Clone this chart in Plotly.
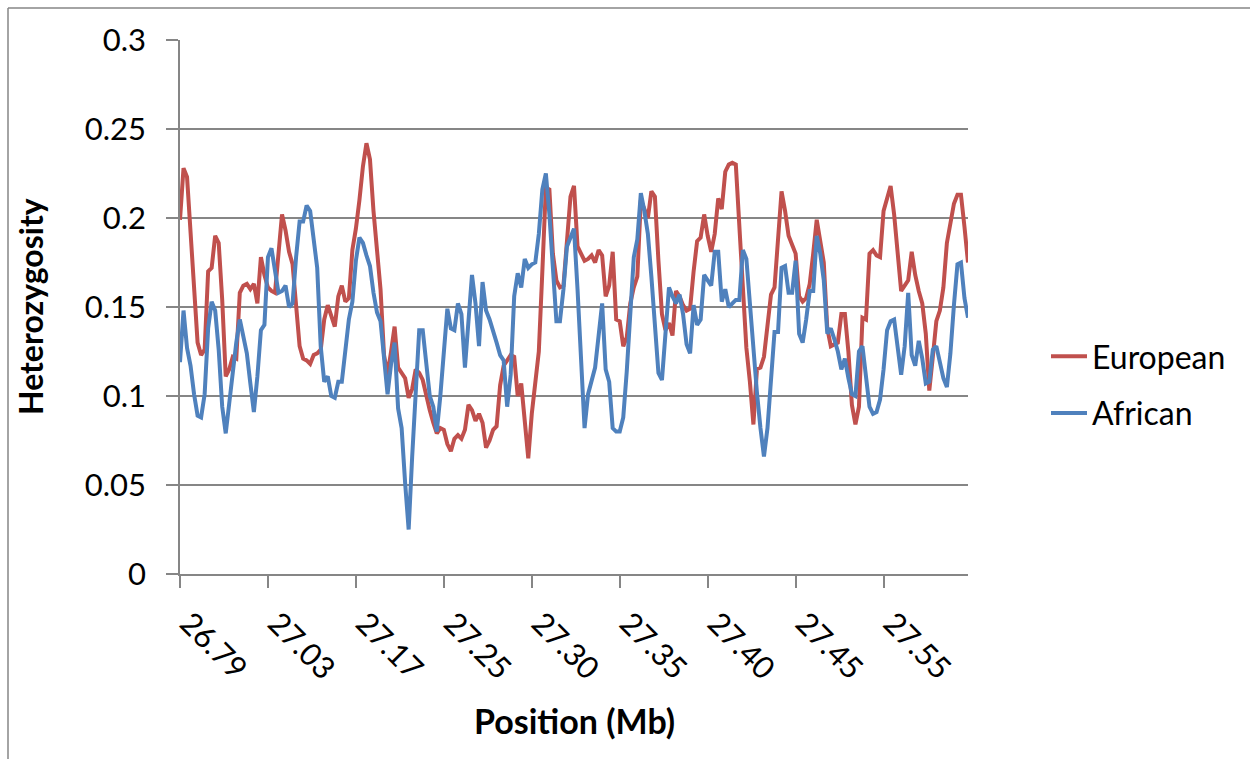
import plotly.graph_objects as go

# Heterozygosity along the region, one value per marker (window) in order
european = [
    .199, .228, .223, .189, .156, .130, .123, .126, .170, .172,
    .190, .186, .154, .111, .115, .122, .121, .158, .162, .163,
    .160, .163, .152, .178, .168, .161, .159, .158, .180, .202,
    .193, .181, .174, .152, .128, .121, .120, .118, .123, .124,
    .126, .143, .151, .145, .139, .156, .162, .153, .155, .182,
    .194, .210, .229, .242, .233, .204, .180, .160, .123, .112,
    .125, .139, .116, .113, .110, .099, .104, .115, .113, .109,
    .100, .092, .085, .079, .082, .081, .073, .069, .076, .078,
    .076, .081, .095, .092, .086, .090, .085, .071, .075, .081,
    .083, .106, .117, .120, .123, .122, .100, .107, .086, .065,
    .090, .110, .125, .170, .217, .216, .180, .165, .161, .162,
    .186, .212, .218, .184, .180, .176, .177, .179, .175, .182,
    .179, .156, .162, .181, .143, .142, .128, .133, .152, .161,
    .167, .210, .205, .200, .215, .212, .176, .146, .137, .141,
    .134, .159, .156, .151, .148, .149, .170, .187, .189, .202,
    .190, .181, .191, .211, .205, .226, .230, .231, .230, .197,
    .155, .127, .108, .084, .115, .116, .122, .141, .157, .161,
    .186, .215, .204, .190, .185, .180, .156, .153, .155, .163,
    .180, .199, .187, .175, .138, .128, .129, .130, .146, .146,
    .125, .095, .084, .094, .144, .143, .180, .182, .179, .178,
    .204, .211, .218, .202, .177, .159, .162, .165, .181, .168,
    .159, .152, .135, .103, .122, .142, .148, .161, .186, .196,
    .208, .213, .213, .195, .175,
]

african = [
    .119, .148, .127, .117, .101, .089, .088, .101, .138, .153,
    .148, .126, .094, .079, .096, .115, .130, .143, .134, .124,
    .107, .091, .111, .137, .140, .178, .183, .169, .158, .159,
    .162, .150, .152, .178, .198, .198, .207, .204, .186, .172,
    .128, .108, .111, .100, .099, .108, .108, .127, .143, .153,
    .176, .189, .186, .179, .173, .158, .147, .142, .124, .101,
    .118, .130, .093, .082, .051, .025, .066, .100, .137, .137,
    .120, .100, .094, .080, .100, .127, .149, .138, .137, .152,
    .146, .116, .146, .168, .152, .128, .164, .148, .143, .137,
    .130, .123, .120, .094, .112, .156, .169, .161, .177, .172,
    .174, .175, .191, .216, .225, .202, .173, .142, .142, .160,
    .184, .189, .194, .160, .118, .082, .101, .109, .116, .134,
    .152, .115, .108, .082, .080, .080, .088, .114, .145, .178,
    .188, .214, .204, .191, .167, .140, .113, .109, .133, .161,
    .156, .152, .157, .146, .129, .124, .151, .140, .143, .168,
    .165, .162, .181, .181, .153, .160, .150, .152, .154, .154,
    .182, .177, .152, .122, .102, .082, .066, .082, .112, .136,
    .136, .172, .173, .158, .158, .176, .135, .130, .143, .159,
    .159, .190, .180, .165, .135, .138, .132, .125, .115, .121,
    .110, .101, .100, .125, .128, .111, .094, .090, .091, .098,
    .115, .137, .142, .143, .127, .112, .128, .158, .123, .117,
    .131, .121, .107, .108, .126, .128, .119, .110, .105, .124,
    .151, .174, .175, .155, .144,
]

# Positions (Mb) printed along the category axis, one every 25 markers
tick_labels = ["26.79", "27.03", "27.17", "27.25", "27.30",
               "27.35", "27.40", "27.45", "27.55"]
label_step = 25

idx = list(range(len(european)))
tick_idx = [i * label_step for i in range(len(tick_labels))]

RED = "#C0504D"
BLUE = "#4F81BD"
GRID = "#868686"
FONT = "Lato, 'Open Sans', sans-serif"

fig = go.Figure()
fig.add_trace(go.Scatter(x=idx, y=european, mode="lines", name="European",
                         legendgroup="eu",
                         line=dict(color=RED, width=4)))
fig.add_trace(go.Scatter(x=idx, y=african, mode="lines", name="African",
                         legendgroup="af",
                         line=dict(color=BLUE, width=4)))

W, H = 1250, 759
L, R, T, B = 180, 282, 40, 185
pw, ph = W - L - R, H - T - B


def px_x(p):
    return (p - L) / pw


def px_y(p):
    return (H - B - p) / ph


fig.update_layout(
    width=W, height=H,
    margin=dict(l=L, r=R, t=T, b=B),
    paper_bgcolor="white", plot_bgcolor="white",
    font=dict(family=FONT, size=31, color="black"),
    showlegend=True,
    legend=dict(x=px_x(1046), y=px_y(385), xanchor="left", yanchor="middle",
                font=dict(size=32), bgcolor="rgba(0,0,0,0)",
                traceorder="grouped", tracegroupgap=12, itemwidth=36),
    xaxis=dict(
        range=[0, len(european) - 1],
        tickmode="array", tickvals=tick_idx, ticktext=tick_labels,
        tickangle=45, ticks="outside", ticklen=12, tickwidth=1.5,
        tickcolor=GRID, showgrid=False, zeroline=False,
        showline=True, linecolor=GRID, linewidth=1.5,
        tickfont=dict(size=31), ticklabelstandoff=5, ticklabelshift=9,
    ),
    yaxis=dict(
        range=[0, 0.3], tickmode="array",
        tickvals=[0, 0.05, 0.1, 0.15, 0.2, 0.25, 0.3],
        ticktext=["0", "0.05", "0.1", "0.15", "0.2", "0.25", "0.3"],
        ticks="outside", ticklen=12, tickwidth=1.5, tickcolor=GRID,
        showgrid=True, gridcolor=GRID, gridwidth=1.5, zeroline=False,
        showline=True, linecolor=GRID, linewidth=1.5,
        tickfont=dict(size=31), ticklabelstandoff=14,
    ),
    annotations=[
        dict(text="<b>Position (Mb)</b>", xref="paper", yref="paper",
             x=px_x(574), y=px_y(720), xanchor="center", yanchor="middle",
             showarrow=False, font=dict(size=34)),
        dict(text="<b>Heterozygosity</b>", xref="paper", yref="paper",
             x=px_x(30), y=px_y(307), xanchor="center", yanchor="middle",
             textangle=-90, showarrow=False, font=dict(size=32)),
    ],
    shapes=[
        dict(type="line", xref="paper", yref="paper",
             x0=px_x(8), x1=px_x(1252), y0=px_y(8), y1=px_y(8),
             line=dict(color=GRID, width=1.5)),
        dict(type="line", xref="paper", yref="paper",
             x0=px_x(8), x1=px_x(8), y0=px_y(8), y1=px_y(761),
             line=dict(color=GRID, width=1.5)),
    ],
)

fig.write_html("out.html")
